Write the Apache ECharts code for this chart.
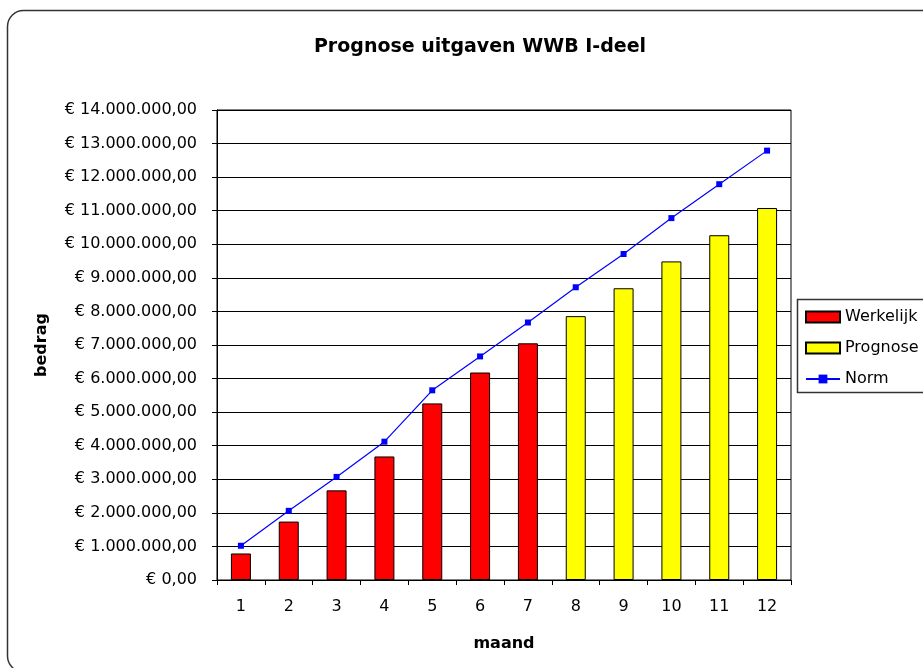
<!DOCTYPE html>
<html>
<head>
<meta charset="utf-8">
<script src="https://cdn.jsdelivr.net/npm/echarts@6/dist/echarts.min.js"></script>
<style>
  html, body { margin: 0; padding: 0; background: #fff; }
  #chart { width: 923px; height: 668px; }
</style>
</head>
<body>
<div id="chart"></div>
<script>
// maanden
const months = ['1', '2', '3', '4', '5', '6', '7', '8', '9', '10', '11', '12'];
// werkelijke uitgaven (maand 1 t/m 7)
const werkelijk = [790000, 1740000, 2670000, 3680000, 5260000, 6180000, 7050000, '-', '-', '-', '-', '-'];
// prognose (maand 8 t/m 12)
const prognose = ['-', '-', '-', '-', '-', '-', '-', 7860000, 8690000, 9490000, 10270000, 11080000];
// norm
const norm = [1020000, 2060000, 3070000, 4120000, 5650000, 6660000, 7670000, 8720000, 9710000, 10780000, 11790000, 12790000];

const font = '"DejaVu Sans", sans-serif';

function euro(v) {
  const parts = Math.round(v).toString().replace(/\B(?=(\d{3})+(?!\d))/g, '.');
  return '€ ' + parts + ',00';
}

const chart = echarts.init(document.getElementById('chart'));

const option = {
  animation: false,
  backgroundColor: '#fff',
  textStyle: { fontFamily: font, color: '#000' },
  title: {
    text: 'Prognose uitgaven WWB I-deel',
    left: 475,
    textAlign: 'center',
    top: 33,
    textStyle: { fontFamily: font, fontSize: 19, fontWeight: 'bold', color: '#000' }
  },
  graphic: [
    {
      // kader om de hele grafiek
      type: 'rect',
      shape: { x: 7.5, y: 10.5, width: 1000, height: 661.5, r: 16 },
      style: { fill: 'none', stroke: '#333', lineWidth: 1.5 },
      z: -1
    },
    {
      // kader om de legenda
      type: 'rect',
      shape: { x: 797.5, y: 299.5, width: 200, height: 93 },
      style: { fill: '#fff', stroke: '#333', lineWidth: 1.5 },
      z: 0
    }
  ],
  legend: {
    orient: 'vertical',
    left: 805,
    top: 309,
    padding: 0,
    itemWidth: 34,
    itemHeight: 11,
    itemGap: 15,
    z: 5,
    textStyle: { fontFamily: font, fontSize: 16, color: '#000' },
    data: [
      { name: 'Werkelijk', icon: 'rect' },
      { name: 'Prognose', icon: 'rect' },
      { name: 'Norm' }
    ]
  },
  grid: {
    left: 217,
    right: 132,
    top: 110,
    bottom: 88,
    show: true,
    borderColor: '#000',
    borderWidth: 1
  },
  xAxis: {
    type: 'category',
    data: months,
    name: 'maand',
    nameLocation: 'middle',
    nameGap: 56,
    nameTextStyle: { fontFamily: font, fontSize: 16, fontWeight: 'bold', color: '#000' },
    axisLine: { lineStyle: { color: '#000', width: 1 } },
    axisTick: { show: true, length: 5, inside: false, lineStyle: { color: '#000' } },
    axisLabel: { fontFamily: font, fontSize: 16, color: '#000', margin: 19 },
    splitLine: { show: false }
  },
  yAxis: {
    type: 'value',
    min: 0,
    max: 14000000,
    interval: 1000000,
    name: 'bedrag',
    nameLocation: 'middle',
    nameGap: 167,
    nameTextStyle: { fontFamily: font, fontSize: 16, fontWeight: 'bold', color: '#000' },
    axisLine: { show: true, lineStyle: { color: '#000', width: 1 } },
    axisTick: { show: true, length: 5, lineStyle: { color: '#000' } },
    axisLabel: { fontFamily: font, fontSize: 16, color: '#000', margin: 20, formatter: euro },
    splitLine: { show: true, lineStyle: { color: '#000', width: 1 } }
  },
  series: [
    {
      name: 'Werkelijk',
      type: 'bar',
      stack: 'uitgaven',
      barWidth: 20,
      data: werkelijk,
      itemStyle: { color: '#FF0000', borderColor: '#000', borderWidth: 1 }
    },
    {
      name: 'Prognose',
      type: 'bar',
      stack: 'uitgaven',
      barWidth: 20,
      data: prognose,
      itemStyle: { color: '#FFFF00', borderColor: '#000', borderWidth: 1 }
    },
    {
      name: 'Norm',
      type: 'line',
      data: norm,
      symbol: 'rect',
      symbolSize: 6,
      z: 10,
      lineStyle: { color: '#0000FF', width: 1.2 },
      itemStyle: { color: '#0000FF' }
    }
  ]
};

chart.setOption(option);
</script>
</body>
</html>
